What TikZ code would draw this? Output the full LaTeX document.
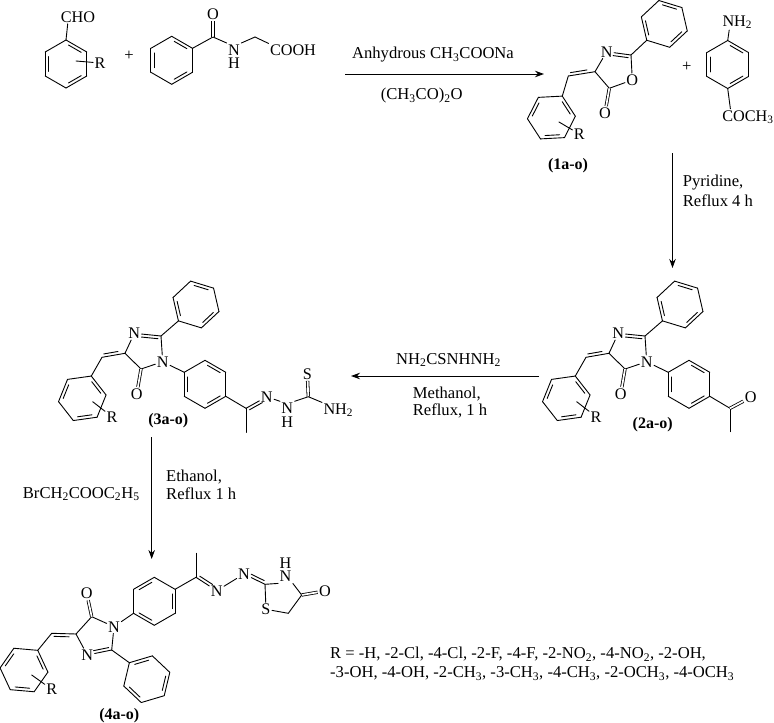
\documentclass[tikz,border=0pt]{standalone}
\usepackage{fontspec}
\setmainfont{Liberation Serif}
\usetikzlibrary{calc,arrows.meta}

\newcommand{\ringsz}{24}
% ring: name, x, y, angle of first corner
\newcommand{\benzring}[4]{%
  \coordinate (#1c) at (#2,#3);
  \foreach \i in {1,...,6} \path (#1c) ++(#4+60*\i-60:\ringsz) coordinate (#1\i);
  \foreach \i/\j in {1/2,2/3,3/4,4/5,5/6,6/1} \draw[bond] (#1\i) -- (#1\j);
  \foreach \i/\j in {1/2,3/4,5/6}
    \draw[bond] ($(#1\i)!.14!(#1\j)!.15!(#1c)$) -- ($(#1\j)!.14!(#1\i)!.15!(#1c)$);
}
% double bond with a second line on one side
\newcommand{\sidebond}[3]{%
  \draw[bond] (#1) -- (#2);
  \draw[bond] ($(#1)!.28!(#2)!3pt!#3:(#2)$) -- ($(#1)!.9!(#2)!3pt!#3:(#2)$);
}
% phenyl, imidazolone, benzylidene and N-aryl of (2a-o) and (3a-o)
\newcommand{\corepart}[2]{%
  \begin{scope}[xshift=#2pt]
    \benzring{#1ph}{680}{304.5}{137}
    \benzring{#1bz}{566.3}{398.3}{-68}
    \benzring{#1ar}{689}{384.3}{-90}
    \node[atom] (#1Nb) at (618.3,333.3) {N};
    \node[atom] (#1Na) at (646.7,361.7) {N};
    \node[atom] (#1O) at (620.7,394) {O};
    \coordinate (#1Cb) at (645,336);
    \coordinate (#1Cd) at (609,353.3);
    \coordinate (#1Ce) at (625,369);
    \coordinate (#1Cx) at (586,357.3);
    \node[atom] (#1R) at (596,416.7) {R};
    \coordinate (#1Rs) at (576.7,401.7);
    \draw[bond] (#1Cb) -- (#1ph1);
    \sidebond{#1Nb}{#1Cb}{-90}
    \draw[bond] (#1Cb) -- (#1Na);
    \draw[bond] (#1Na) -- (#1Ce);
    \draw[bond] (#1Ce) -- (#1Cd);
    \draw[bond] (#1Cd) -- (#1Nb);
    \draw[dblbond] (#1Ce) -- (#1O);
    \sidebond{#1Cd}{#1Cx}{-90}
    \draw[bond] (#1Cx) -- (#1bz1);
    \draw[bond] (#1Na) -- (#1ar6);
    \draw[bond] (#1Rs) -- (#1R);
  \end{scope}
}

\begin{document}
\begin{tikzpicture}[x=1pt,y=-1pt,
    bond/.style={line width=.9pt,line cap=round,line join=round},
    dblbond/.style={line width=.8pt,double,double distance=1.7pt},
    atom/.style={inner sep=0pt,outer sep=1.5pt,font=\fontsize{16.2}{18}\selectfont},
    nhatom/.style={atom,align=center,font=\fontsize{16.2}{13.8}\selectfont},
    lbl/.style={inner sep=0pt,font=\fontsize{16.6}{19}\selectfont},
    cpd/.style={inner sep=0pt,font=\fontsize{16}{19}\selectfont\bfseries},
    rarrow/.style={line width=.9pt,-{Stealth[length=9pt,width=6.5pt]}}]
  \useasboundingbox (0,0) rectangle (774,723);

  % benzaldehyde
  \benzring{ald}{66}{64}{-90}
  \node[atom] (cho) at (78,17) {CHO};
  \node[atom] (Ra) at (100,63) {R};
  \coordinate (Ras) at (76,61);
  \draw[bond] (ald1) -- (cho.214);
  \draw[bond] (Ras) -- (Ra);
  \node[lbl] (plusa) at (129,56) {+};

  % hippuric acid
  \benzring{hip}{171.7}{60.3}{-90}
  \coordinate (hipC) at (213,37);
  \coordinate (hipM) at (255,37);
  \node[atom] (hipO) at (213,14) {O};
  \node[nhatom] (hipN) at (234,56.7) {N\\H};
  \node[atom] (cooh) at (293,50) {COOH};
  \draw[bond] (hip2) -- (hipC);
  \draw[dblbond] (hipC) -- (hipO);
  \draw[bond] (hipC) -- (hipN.north west);
  \draw[bond] (hipN.north east) -- (hipM);
  \draw[bond] (hipM) -- (cooh.165);

  % first arrow
  \coordinate (araS) at (345,74);
  \coordinate (araE) at (544,74);
  \draw[rarrow] (araS) -- (araE);
  \node[lbl] (ara1) at (433,55) {Anhydrous CH\textsubscript{3}COONa};
  \node[lbl] (ara2) at (421.7,96) {(CH\textsubscript{3}CO)\textsubscript{2}O};

  % (1a-o)
  \benzring{oxph}{664.3}{23.9}{137}
  \benzring{oxbz}{551.4}{117.5}{-63}
  \node[atom] (oxN) at (606.7,51.7) {N};
  \node[atom] (oxO) at (632.3,80) {O};
  \node[atom] (oxOc) at (605,113) {O};
  \coordinate (oxCb) at (631,55);
  \coordinate (oxCd) at (595,71.7);
  \coordinate (oxCe) at (609.3,88.3);
  \coordinate (oxCx) at (568.3,76);
  \node[atom] (oxR) at (579.3,134) {R};
  \coordinate (oxRs) at (559,122);
  \draw[bond] (oxCb) -- (oxph1);
  \sidebond{oxN}{oxCb}{-90}
  \draw[bond] (oxCb) -- (oxO);
  \draw[bond] (oxO) -- (oxCe);
  \draw[bond] (oxCe) -- (oxCd);
  \draw[bond] (oxCd) -- (oxN);
  \draw[dblbond] (oxCe) -- (oxOc);
  \sidebond{oxCd}{oxCx}{-90}
  \draw[bond] (oxCx) -- (oxbz1);
  \draw[bond] (oxRs) -- (oxR);
  \node[cpd] (cpda) at (568,166) {(1a-o)};

  % aminoacetophenone
  \node[lbl] (plusb) at (686.7,66.7) {+};
  \benzring{ani}{727.7}{64.5}{-90}
  \node[atom,anchor=west] (nhb) at (721,22) {NH\textsubscript{2}};
  \node[atom] (coch) at (748,117) {COCH\textsubscript{3}};
  \draw[bond] (ani1) -- (nhb.225);
  \draw[bond] (ani4) -- (coch.155);

  % second arrow
  \coordinate (arbS) at (672.5,153);
  \coordinate (arbE) at (672.5,268);
  \draw[rarrow] (arbS) -- (arbE);
  \node[lbl,anchor=west] (arb1) at (682.7,183) {Pyridine,};
  \node[lbl,anchor=west] (arb2) at (682.7,201) {Reflux 4 h};

  % (2a-o)
  \corepart{im}{0}
  \coordinate (imK) at (730,408.3);
  \coordinate (imMe) at (730,431.7);
  \node[atom] (imKO) at (750.7,397.3) {O};
  \draw[bond] (imar3) -- (imK);
  \draw[bond] (imK) -- (imMe);
  \draw[dblbond] (imK) -- (imKO);
  \node[cpd] (cpdb) at (652.7,424.3) {(2a-o)};

  % third arrow
  \coordinate (arcS) at (539,376);
  \coordinate (arcE) at (351,376);
  \draw[rarrow] (arcS) -- (arcE);
  \node[lbl] (arc1) at (448.5,360) {NH\textsubscript{2}CSNHNH\textsubscript{2}};
  \node[lbl,anchor=west] (arc2) at (412.7,394) {Methanol,};
  \node[lbl,anchor=west] (arc3) at (412.7,411) {Reflux, 1 h};

  % (3a-o)
  \corepart{ts}{-484}
  \coordinate (tsK) at (246,408.3);
  \coordinate (tsMe) at (246,432.3);
  \node[atom] (tsNa) at (266.7,396.7) {N};
  \node[nhatom] (tsNb) at (287.3,415) {N\\H};
  \coordinate (tsC) at (308.3,396.7);
  \node[atom] (tsS) at (307.3,374) {S};
  \node[atom,anchor=west] (tsNH) at (322,410) {NH\textsubscript{2}};
  \draw[bond] (tsar3) -- (tsK);
  \draw[bond] (tsK) -- (tsMe);
  \sidebond{tsNa}{tsK}{90}
  \draw[bond] (tsNa) -- (tsNb.north west);
  \draw[bond] (tsNb.north east) -- (tsC);
  \draw[dblbond] (tsC) -- (tsS);
  \draw[bond] (tsC) -- (tsNH.155);
  \node[cpd] (cpdc) at (168.3,421) {(3a-o)};

  % fourth arrow
  \coordinate (ardS) at (151.7,437);
  \coordinate (ardE) at (151.7,559);
  \draw[rarrow] (ardS) -- (ardE);
  \node[lbl,anchor=west] (ard1) at (166,477) {Ethanol,};
  \node[lbl,anchor=west] (ard2) at (166,493.5) {Reflux 1 h};
  \node[lbl,anchor=west] (ard3) at (22.7,494) {BrCH\textsubscript{2}COOC\textsubscript{2}H\textsubscript{5}};

  % (4a-o)
  \benzring{fpar}{154.3}{601.3}{-30}
  \benzring{fpph}{146.8}{679.2}{223.4}
  \benzring{fpbz}{24}{670}{-55}
  \node[atom] (fpNa) at (114,626.7) {N};
  \node[atom] (fpNb) at (87.3,655) {N};
  \node[atom] (fpO) at (86.7,593.3) {O};
  \coordinate (fpCb) at (111.7,650);
  \coordinate (fpCd) at (76,634);
  \coordinate (fpCe) at (91.7,616.7);
  \coordinate (fpCx) at (51.7,633.3);
  \node[atom] (fpR) at (51.7,689.3) {R};
  \coordinate (fpRs) at (31.7,675);
  \draw[bond] (fpCb) -- (fpph1);
  \sidebond{fpNb}{fpCb}{90}
  \draw[bond] (fpCb) -- (fpNa);
  \draw[bond] (fpNa) -- (fpCe);
  \draw[bond] (fpCe) -- (fpCd);
  \draw[bond] (fpCd) -- (fpNb);
  \draw[dblbond] (fpCe) -- (fpO);
  \sidebond{fpCd}{fpCx}{90}
  \draw[bond] (fpCx) -- (fpbz1);
  \draw[bond] (fpNa) -- (fpar4);
  \draw[bond] (fpRs) -- (fpR);
  % hydrazone and thiazolidinone
  \coordinate (fpK) at (196,577.3);
  \coordinate (fpMe) at (196,553.3);
  \node[atom] (fpNc) at (216.7,590.7) {N};
  \node[atom] (fpNd) at (244,574) {N};
  \coordinate (fzC) at (265,584.3);
  \node[nhatom] (fzN) at (285.5,569.7) {H\\N};
  \coordinate (fzK) at (301.7,595);
  \node[atom] (fzO) at (325,591) {O};
  \coordinate (fzM) at (288.3,613.3);
  \node[atom] (fzS) at (266,609.3) {S};
  \draw[bond] (fpar1) -- (fpK);
  \draw[bond] (fpK) -- (fpMe);
  \sidebond{fpNc}{fpK}{-90}
  \draw[bond] (fpNc) -- (fpNd);
  \sidebond{fpNd}{fzC}{90}
  \draw[bond] (fzC) -- (fzN.south west);
  \draw[bond] (fzN.south east) -- (fzK);
  \draw[dblbond] (fzK) -- (fzO);
  \draw[bond] (fzK) -- (fzM);
  \draw[bond] (fzM) -- (fzS);
  \draw[bond] (fzS) -- (fzC);
  \node[cpd] (cpdd) at (119.3,716) {(4a-o)};

  % R groups
  \node[lbl,anchor=north west,align=left] (rlist) at (330,647) {R = -H, -2-Cl, -4-Cl, -2-F, -4-F, -2-NO\textsubscript{2}, -4-NO\textsubscript{2}, -2-OH,\\-3-OH, -4-OH, -2-CH\textsubscript{3}, -3-CH\textsubscript{3}, -4-CH\textsubscript{3}, -2-OCH\textsubscript{3}, -4-OCH\textsubscript{3}};
\end{tikzpicture}
\end{document}
